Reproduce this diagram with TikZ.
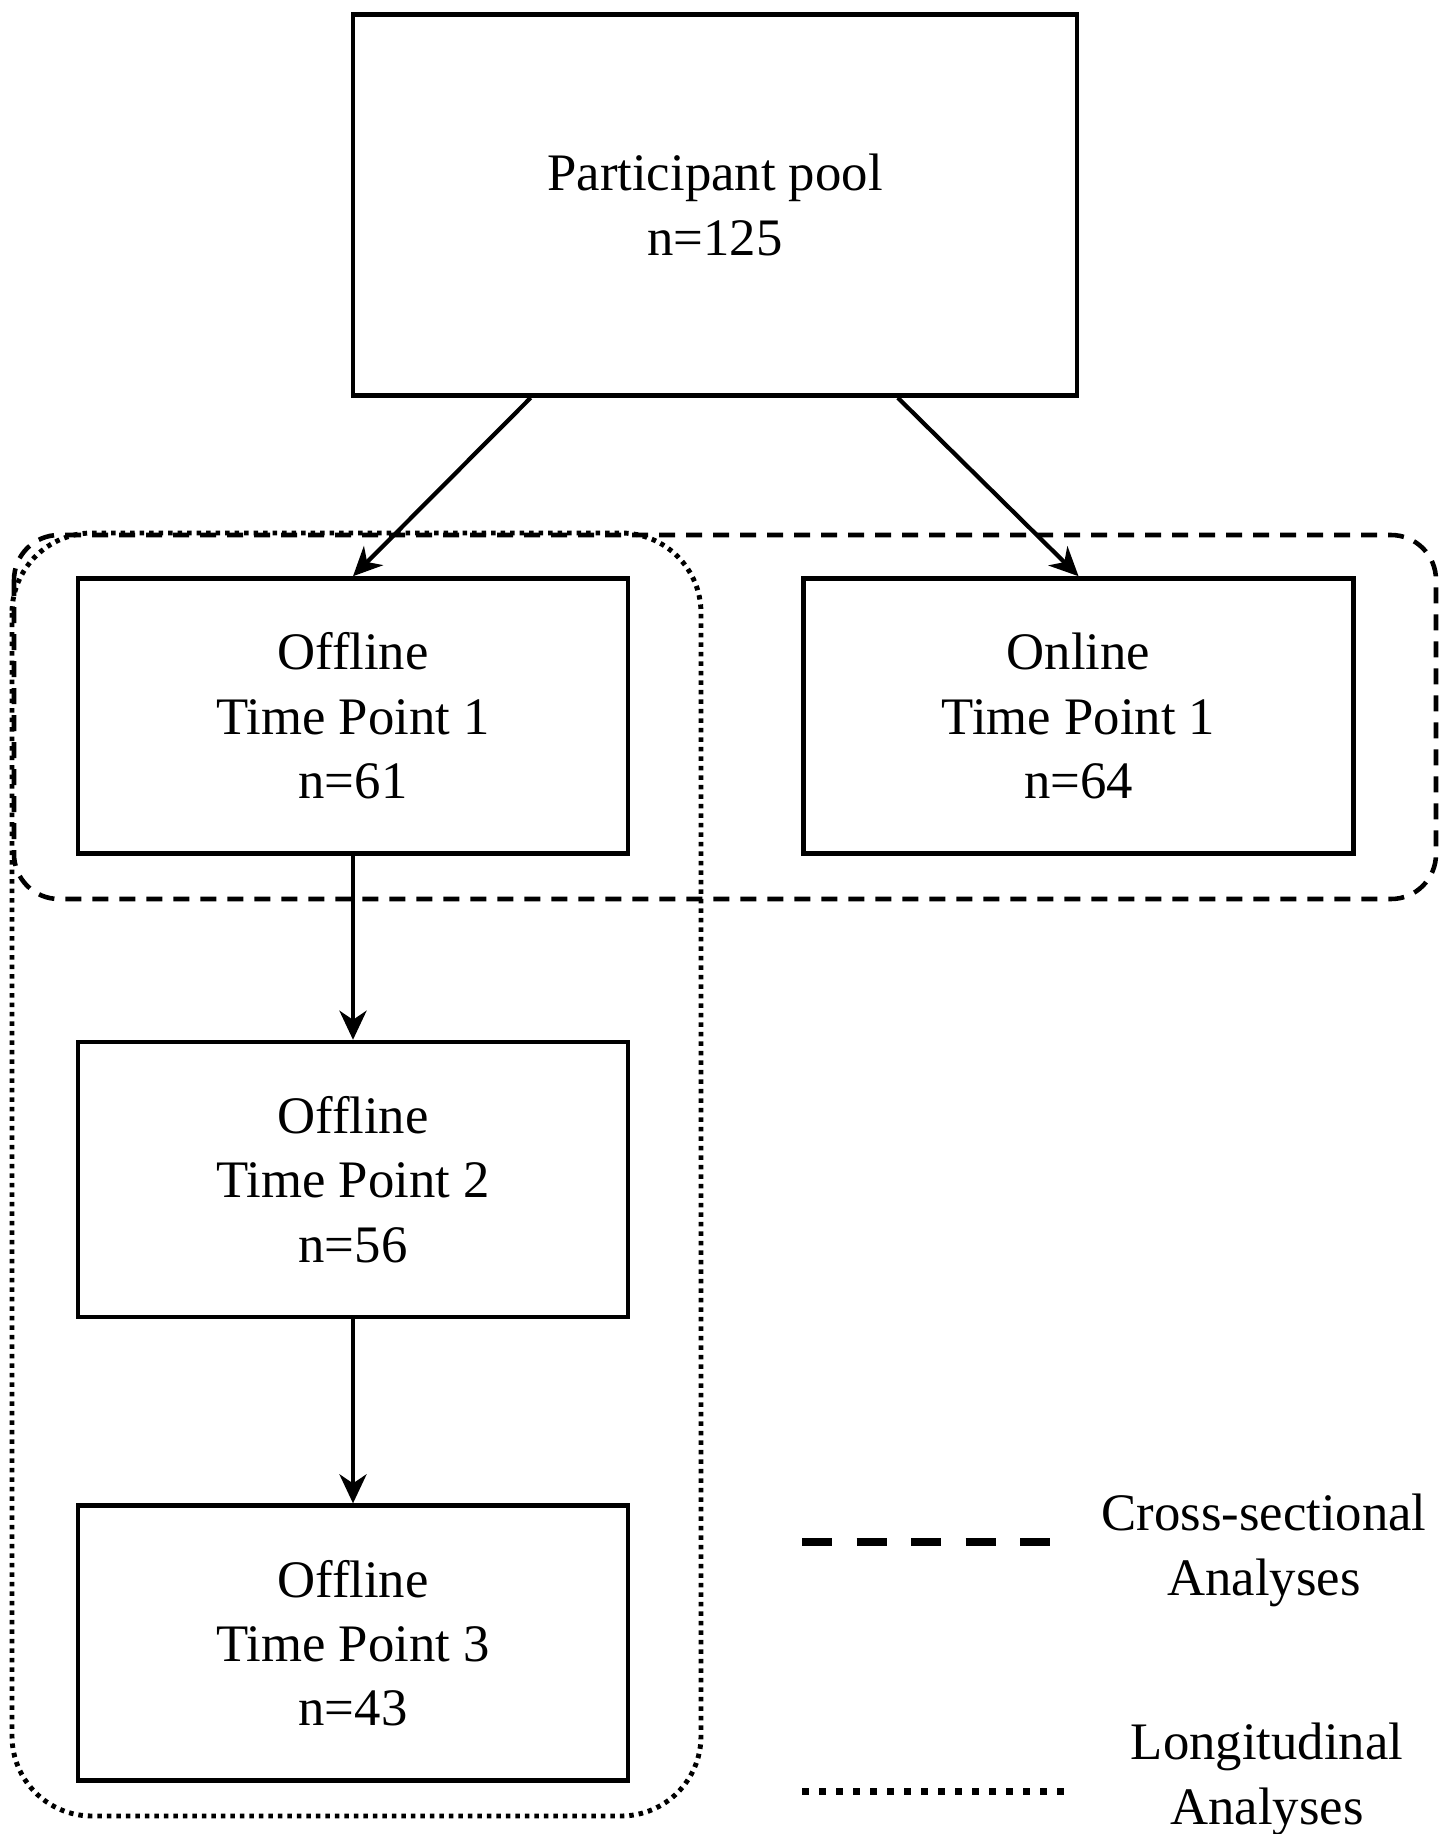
\documentclass[tikz,border=0pt]{standalone}
\usepackage{fontspec}
\setmainfont{Liberation Serif}
\usetikzlibrary{arrows.meta,positioning,calc}

\tikzset{
  stagebox/.style={draw,line width=1.3pt,fill=white,align=center,
    minimum width=55mm,minimum height=27.5mm,inner sep=0pt,
    font=\fontsize{15}{18.3}\selectfont},
  flowarrow/.style={line width=1.2pt,-{Stealth[length=2.9mm,width=2.7mm,inset=0.9mm]}},
  crossframe/.style={line width=1.3pt,dash pattern=on 1.6mm off 1.1mm,rounded corners=4.5mm},
  longframe/.style={line width=1.4pt,dash pattern=on 0.45mm off 0.5mm,rounded corners=8mm},
  legendtext/.style={align=center,inner sep=0pt,font=\fontsize{15}{18.5}\selectfont}
}

\begin{document}
\begin{tikzpicture}[x=0.1mm,y=-0.1mm,node distance=18.4mm]
  \useasboundingbox (0,0) rectangle (1440,1834);

  \draw[crossframe] (14,535) rectangle (1436,899);
  \draw[longframe] (12,533) rectangle (701,1816);

  \node[stagebox,minimum width=72.4mm,minimum height=38.1mm] (pool) at (715,205)
    {Participant pool\\n=125};
  \node[stagebox] (off1) at (353,716) {Offline\\Time Point 1\\n=61};
  \node[stagebox,right=17.1mm of off1] (on1) {Online\\Time Point 1\\n=64};
  \node[stagebox,below=of off1] (off2) {Offline\\Time Point 2\\n=56};
  \node[stagebox,below=of off2] (off3) {Offline\\Time Point 3\\n=43};

  \draw[flowarrow] ($(pool.south west)!0.247!(pool.south east)$) -- (off1.north);
  \draw[flowarrow] ($(pool.south west)!0.751!(pool.south east)$) -- (on1.north);
  \draw[flowarrow] (off1) -- (off2);
  \draw[flowarrow] (off2) -- (off3);

  \coordinate (crossA) at (802,1542);
  \coordinate (crossB) at (1050,1542);
  \coordinate (longA) at (802,1791);
  \coordinate (longB) at (1068,1791);
  \draw[line width=2.3pt,dash pattern=on 3mm off 2.45mm] (crossA) -- (crossB);
  \draw[line width=2pt,dash pattern=on 0.65mm off 1.05mm] (longA) -- (longB);
  \node[legendtext] (crosslabel) at (1264,1550) {Cross-sectional\\Analyses};
  \node[legendtext] (longlabel) at (1267,1779) {Longitudinal\\Analyses};
\end{tikzpicture}
\end{document}
